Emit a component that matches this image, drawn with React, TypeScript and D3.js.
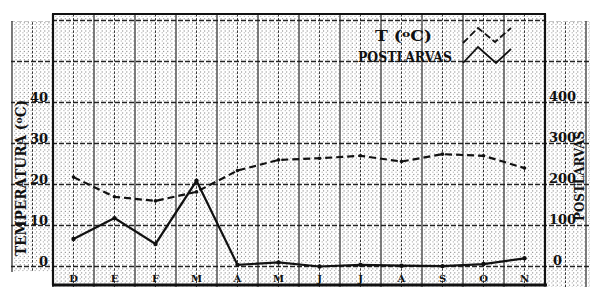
import React from "react";
import * as d3 from "d3";

const months = ["D", "E", "F", "M", "A", "M", "J", "J", "A", "S", "O", "N"];
const temperature = [21.8, 17.0, 16.0, 18.2, 23.4, 26.0, 26.4, 27.0, 25.6, 27.4, 27.0, 24.0];
const postlarvas = [67, 118, 55, 209, 4, 10, 0, 4, 2, 1, 6, 20];
const tempTicks = [0, 10, 20, 30, 40];
const postTicks = [0, 100, 200, 300, 400];

const W = 600;
const H = 307;
const frame = { left: 53, right: 545, top: 14, bottom: 285 };
const ink = "#111";
const font = "'DejaVu Serif', serif";

export default function App() {
  const idx = months.map((_, i) => i);
  const x = d3.scaleBand<number>().domain(idx).range([frame.left, frame.right]);
  const cx = (i: number) => (x(i) as number) + x.bandwidth() / 2;
  const yT = d3.scaleLinear().domain([0, 40]).range([266.5, 102.5]);
  const yP = d3.scaleLinear().domain([0, 400]).range([266.5, 102.5]);

  const major = x.bandwidth(); // 41
  const fine = major / 10;

  const gx0 = 10, gx1 = 591, gy0 = 14, gy1 = 287;
  const vMajor: number[] = [];
  const vHalf: number[] = [];
  const vFine: number[] = [];
  for (let k = -2; k <= 14; k++) {
    const base = frame.left + k * major;
    if (base >= gx0 && base <= gx1) vMajor.push(base);
    const h = base + major / 2;
    if (h >= gx0 && h <= gx1) vHalf.push(h);
    for (let j = 1; j < 10; j++) {
      const f = base + j * fine;
      if (j !== 5 && f >= gx0 && f <= gx1) vFine.push(f);
    }
  }
  const hMajor: number[] = [];
  const hFine: number[] = [];
  for (let k = -1; k <= 7; k++) {
    const base = yT(0) - k * major;
    if (base >= gy0 && base <= gy1) hMajor.push(base);
    for (let j = 1; j < 10; j++) {
      const f = base - j * fine;
      if (f >= gy0 && f <= gy1) hFine.push(f);
    }
  }

  const lineT = d3
    .line<number>()
    .x((_, i) => cx(i))
    .y((d) => yT(d));
  const lineP = d3
    .line<number>()
    .x((_, i) => cx(i))
    .y((d) => yP(d));

  return (
    <svg
      width={W}
      height={H}
      viewBox={`0 0 ${W} ${H}`}
      style={{ position: "absolute", left: 0, top: 0, background: "#fff" }}
    >
      <rect x={0} y={0} width={W} height={H} fill="#fff" />
      <g>
        {vFine.map((v, i) => (
          <line key={"vf" + i} x1={v} x2={v} y1={gy0} y2={gy1} stroke="#777" strokeWidth={0.9} strokeDasharray="1.2 2.9" />
        ))}
        {hFine.map((v, i) => (
          <line key={"hf" + i} x1={gx0} x2={gx1} y1={v} y2={v} stroke="#999" strokeWidth={0.8} strokeDasharray="1.2 2.9" />
        ))}
        {vHalf.map((v, i) => (
          <line key={"vh" + i} x1={v} x2={v} y1={gy0} y2={gy1} stroke="#333" strokeWidth={1} strokeDasharray="2.5 1.6" />
        ))}
        {vMajor.map((v, i) => (
          <line key={"vm" + i} x1={v} x2={v} y1={gy0} y2={gy1} stroke="#222" strokeWidth={1.2} />
        ))}
        {hMajor.map((v, i) => (
          <line key={"hm" + i} x1={gx0} x2={gx1} y1={v} y2={v} stroke="#222" strokeWidth={1.4} strokeDasharray="5 2" />
        ))}
        <rect x={0} y={0} width={frame.left - 1} height={21} fill="#fff" />
        <rect x={frame.right + 1} y={0} width={W - frame.right} height={21} fill="#fff" />
        <rect x={0} y={0} width={W} height={frame.top - 1} fill="#fff" />
        <rect x={0} y={272} width={frame.left - 1} height={40} fill="#fff" />
        <rect x={0} y={frame.bottom + 2} width={W} height={30} fill="#fff" />
        <rect x={0} y={0} width={gx0 + 1} height={H} fill="#fff" />
        <rect x={gx1 - 1} y={0} width={W} height={H} fill="#fff" />
      </g>

      {/* frame */}
      <line x1={frame.left - 1} x2={frame.right + 1} y1={frame.top} y2={frame.top} stroke={ink} strokeWidth={2.2} />
      <line x1={frame.left - 1} x2={frame.right + 2} y1={frame.bottom} y2={frame.bottom} stroke={ink} strokeWidth={3} />
      <line x1={frame.left} x2={frame.left} y1={frame.top} y2={frame.bottom} stroke={ink} strokeWidth={2.2} />
      <line x1={frame.right} x2={frame.right} y1={frame.top} y2={frame.bottom} stroke={ink} strokeWidth={2.2} />

      {/* month labels */}
      {months.map((m, i) => (
        <text key={"m" + i} x={cx(i)} y={282} textAnchor="middle" fontFamily={font} fontWeight="bold" fontSize={10} fill={ink}>
          {m}
        </text>
      ))}

      {/* left ticks */}
      {tempTicks.map((t) => (
        <text key={"lt" + t} x={48} y={yT(t) - 1} textAnchor="end" fontFamily={font} fontWeight="bold" fontSize={13} fill={ink}>
          {t}
        </text>
      ))}
      {/* right ticks */}
      {postTicks.map((t) => (
        <text key={"rt" + t} x={t === 0 ? 553 : 549} y={yP(t) - 2} textAnchor="start" fontFamily={font} fontWeight="bold" fontSize={13} fill={ink}>
          {t}
        </text>
      ))}

      {/* axis titles */}
      <text
        transform={`translate(26,178) rotate(-90)`}
        textAnchor="middle"
        fontFamily={font}
        fontWeight="bold"
        fontSize={14}
        textLength={156}
        lengthAdjust="spacingAndGlyphs"
        fill={ink}
      >
        TEMPERATURA (<tspan fontSize={10} dy={-4}>o</tspan><tspan dy={4}>C)</tspan>
      </text>
      <text
        transform={`translate(584,176) rotate(-90)`}
        textAnchor="middle"
        fontFamily={font}
        fontWeight="bold"
        fontSize={12}
        textLength={90}
        lengthAdjust="spacingAndGlyphs"
        fill={ink}
      >
        POSTLARVAS
      </text>

      {/* legend */}
      <text x={375} y={41} textAnchor="start" fontFamily={font} fontWeight="bold" fontSize={14} textLength={57} lengthAdjust="spacingAndGlyphs" fill={ink}>
        T (<tspan fontSize={10} dy={-4}>o</tspan><tspan dy={4}>C)</tspan>
      </text>
      <text x={358} y={62} textAnchor="start" fontFamily={font} fontWeight="bold" fontSize={14} textLength={94} lengthAdjust="spacingAndGlyphs" fill={ink}>
        POSTLARVAS
      </text>
      <polyline points="463,43 478,28 495,42 511,28" fill="none" stroke={ink} strokeWidth={1.8} strokeDasharray="7 3" />
      <polyline points="463,63 478,47 496,63 511,49" fill="none" stroke={ink} strokeWidth={1.8} />

      {/* data */}
      <path d={lineT(temperature) || ""} fill="none" stroke={ink} strokeWidth={2.2} strokeDasharray="7 4" />
      {temperature.map((d, i) => (
        <circle key={"tp" + i} cx={cx(i)} cy={yT(d)} r={1.8} fill={ink} />
      ))}
      <path d={lineP(postlarvas) || ""} fill="none" stroke={ink} strokeWidth={2.2} />
      {postlarvas.map((d, i) => (
        <circle key={"pp" + i} cx={cx(i)} cy={yP(d)} r={2.2} fill={ink} />
      ))}
    </svg>
  );
}
